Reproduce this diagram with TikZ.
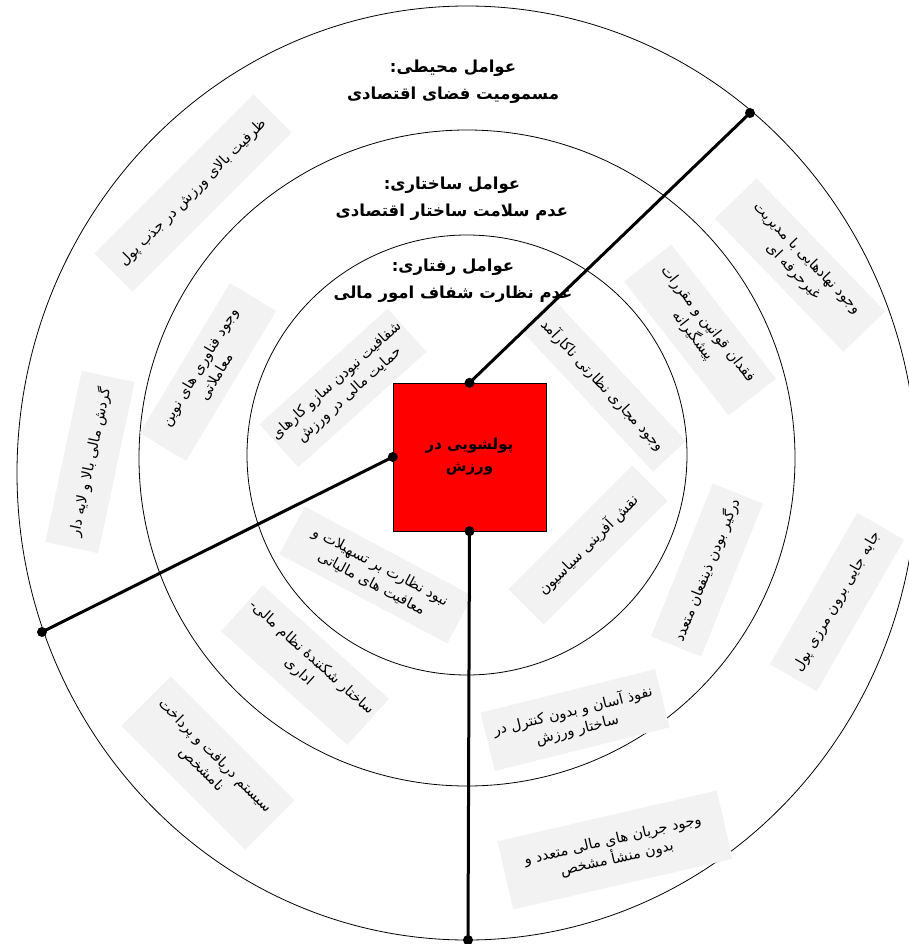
\documentclass[tikz,border=0pt]{standalone}
\usepackage{fontspec}
\newfontfamily\farsi[Script=Arabic]{DejaVu Sans}
\TeXXeTstate=1
\newcommand{\fa}[1]{\beginR#1\endR}
\definecolor{boxgray}{RGB}{242,242,242}
\tikzset{
  ring/.style={draw=black, line width=0.8pt},
  cause/.style={fill=boxgray, align=center, inner sep=2pt, minimum height=54pt,
    font=\farsi\fontsize{14.5}{19}\selectfont},
  heading/.style={align=center, font=\farsi\bfseries\fontsize{16.5}{27}\selectfont},
  spoke/.style={line width=3pt},
}

\begin{document}
\begin{tikzpicture}[x=1pt,y=-1pt]
  \useasboundingbox (0,0) rectangle (908,944);
  % three rings of factors
  \draw[ring] (467,473) ellipse [x radius=450pt, y radius=467pt];
  \draw[ring] (467,458) circle [radius=328pt];
  \draw[ring] (467,455) circle [radius=220pt];

  % outer ring
  \node[cause, rotate=45, minimum width=225pt] (capacity) at (193,193) {\fa{ظرفیت بالای ورزش در جذب پول}};
  \node[cause, rotate=78, minimum width=175pt] (turnover) at (90,462) {\fa{گردش مالی بالا و لایه دار}};
  \node[cause, rotate=-45, minimum width=175pt, minimum height=70pt] (payment) at (208,763) {\fa{سیستم دریافت و پرداخت}\\\fa{نامشخص}};
  \node[cause, rotate=13, minimum width=225pt, minimum height=70pt] (flows) at (615,850) {\fa{وجود جریان های مالی متعدد و}\\\fa{بدون منشأ مشخص}};
  \node[cause, rotate=60, minimum width=175pt] (transfer) at (837,602) {\fa{جابه جایی برون مرزی پول}};
  \node[cause, rotate=-46, minimum width=185pt, minimum height=58pt] (amateur) at (800,265) {\fa{وجود نهادهایی با مدیریت}\\\fa{غیرحرفه ای}};

  % middle ring
  \node[cause, rotate=59, minimum width=175pt] (fintech) at (208,372) {\fa{وجود فناوری های نوین}\\\fa{معاملاتی}};
  \node[cause, rotate=-42, minimum width=170pt, minimum height=62pt] (fragile) at (305,665) {\fa{ساختار شکنندهٔ نظام مالی-}\\\fa{اداری}};
  \node[cause, rotate=14, minimum width=180pt, minimum height=60pt] (access) at (575,720) {\fa{نفوذ آسان و بدون کنترل در}\\\fa{ساختار ورزش}};
  \node[cause, rotate=68, minimum width=165pt] (stake) at (707,570) {\fa{درگیر بودن ذینفعان متعدد}};
  \node[cause, rotate=-52, minimum width=170pt, minimum height=60pt] (laws) at (700,330) {\fa{فقدان قوانین و مقررات}\\\fa{پیشگیرانه}};

  % inner ring
  \node[cause, rotate=42, minimum width=165pt, minimum height=58pt] (opaque) at (343,388) {\fa{شفافیت نبودن سازو کارهای}\\\fa{حمایت مالی در ورزش}};
  \node[cause, rotate=-47, minimum width=195pt, minimum height=45pt] (channels) at (603,385) {\fa{وجود مجاری نظارتی ناکارآمد}};
  \node[cause, rotate=-28, minimum width=190pt] (facilities) at (376,575) {\fa{نبود نظارت بر تسهیلات و}\\\fa{معافیت های مالیاتی}};
  \node[cause, rotate=45, minimum width=175pt, minimum height=50pt] (politics) at (588,545) {\fa{نقش آفرینی سیاسیون}};

  % ring headings
  \node[heading] (envhead) at (453,82) {\fa{عوامل محیطی:}\\\fa{مسمومیت فضای اقتصادی}};
  \node[heading] (structhead) at (452,199) {\fa{عوامل ساختاری:}\\\fa{عدم سلامت ساختار اقتصادی}};
  \node[heading] (behavhead) at (453,281) {\fa{عوامل رفتاری:}\\\fa{عدم نظارت شفاف امور مالی}};

  % core
  \node[draw, fill=red, minimum width=153pt, minimum height=148pt, align=center,
    font=\farsi\bfseries\fontsize{15}{22}\selectfont] (core) at (469.5,457) {\fa{پولشویی در}\\\fa{ورزش}};

  \coordinate (endtr) at (750,113);
  \coordinate (endlf) at (42,632);
  \coordinate (endbt) at (468,940);
  \draw[spoke] (core.north) -- (endtr);
  \draw[spoke] (core.west) -- (endlf);
  \draw[spoke] (core.south) -- (endbt);
  \foreach \p in {core.north,core.west,core.south,endtr,endlf,endbt}
    \fill (\p) circle (5pt);
\end{tikzpicture}
\end{document}
